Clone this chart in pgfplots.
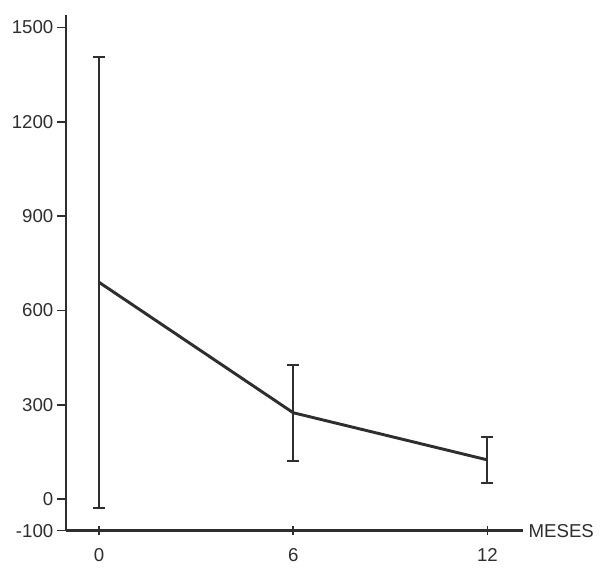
\documentclass[border=0pt]{standalone}
\usepackage{fontspec}
\setmainfont{Liberation Sans}
\usepackage{pgfplots}
\pgfplotsset{compat=1.18}
\definecolor{ink}{HTML}{2E2E2E}
\begin{document}
\begin{tikzpicture}[x=1pt,y=1pt]
\begin{axis}[
  scale only axis,
  width=343pt, height=387pt,
  xmin=-1.02, xmax=13.1,
  ymin=-100, ymax=1540,
  axis lines*=left,
  axis line style={ink, line width=1.8pt},
  xtick={0,6,12},
  ytick={-100,0,300,600,900,1200,1500},
  x tick style={ink, line width=1.2pt},
  y tick style={ink, line width=1.2pt},
  major tick length=7pt,
  xtick align=center,
  ytick align=outside,
  tick label style={font=\fontsize{14}{16}\selectfont, text=ink},
  /pgf/number format/assume math mode=true,
  /pgf/number format/1000 sep={},
  yticklabel style={xshift=1pt},
  xticklabel style={yshift=-6pt},
  clip=false,
  xlabel={MESES},
  xlabel style={at={(rel axis cs:1,0)}, anchor=west, font=\fontsize{14}{16}\selectfont, text=ink, inner sep=4pt},
]
\addplot[ink, line width=2.2pt, mark=none,
  error bars/.cd, y dir=both, y explicit,
  error bar style={ink, line width=1.5pt},
  error mark options={ink, line width=1.5pt, mark size=4.5pt, rotate=90}]
  coordinates {
    (0,690) +- (0,718)
    (6,275) +- (0,152)
    (12,125) +- (0,73)
  };
\coordinate (bl) at (rel axis cs:-0.1444,-0.0717);
\coordinate (tr) at (rel axis cs:1.1729,1.0291);
\end{axis}
\pgfresetboundingbox
\path (bl) rectangle (tr);
\end{tikzpicture}
\end{document}
